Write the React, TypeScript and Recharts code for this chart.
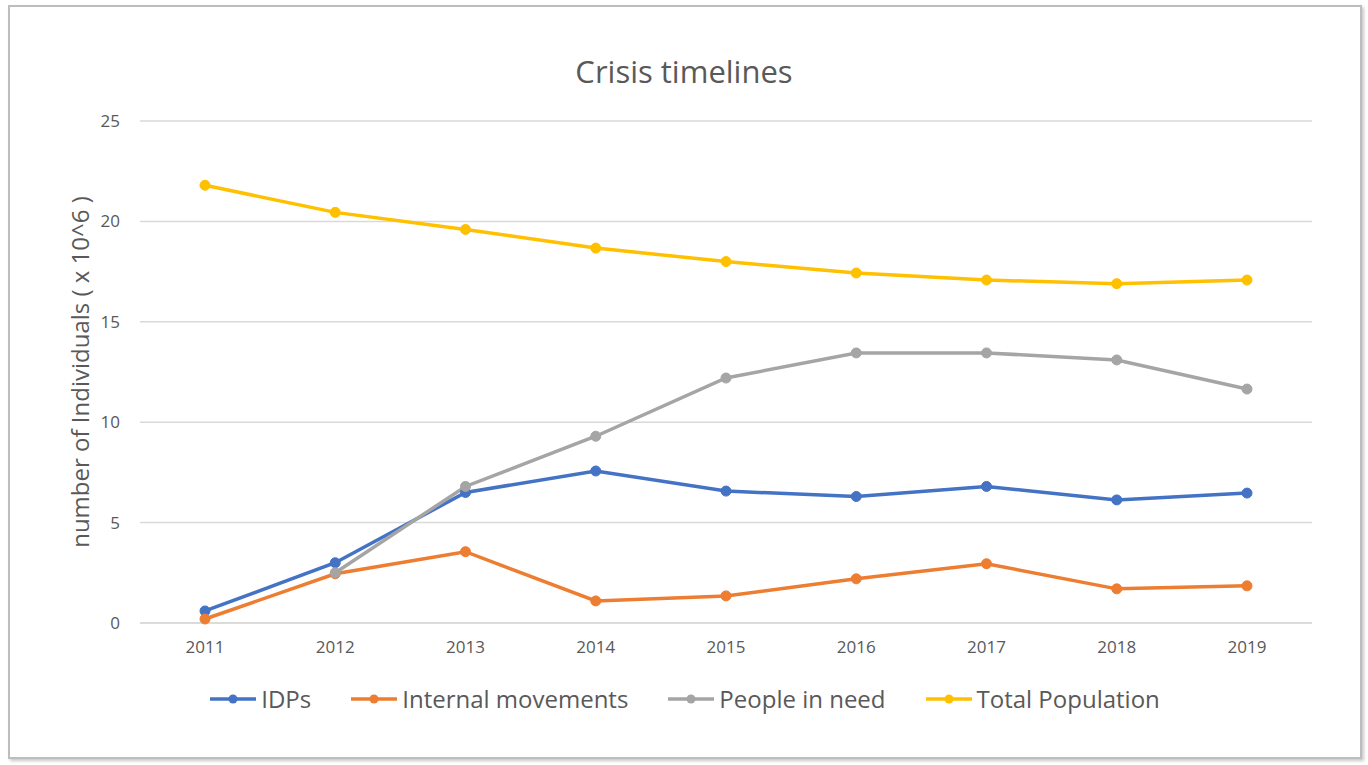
import React from 'react';
import { LineChart, Line, XAxis, YAxis, CartesianGrid } from 'recharts';

const years = ['2011', '2012', '2013', '2014', '2015', '2016', '2017', '2018', '2019'];
const idps = [0.6, 3.0, 6.5, 7.57, 6.57, 6.3, 6.8, 6.13, 6.47];
const internalMovements = [0.2, 2.45, 3.55, 1.1, 1.35, 2.2, 2.95, 1.7, 1.85];
const peopleInNeed = [null, 2.5, 6.8, 9.3, 12.2, 13.45, 13.45, 13.1, 11.65];
const totalPopulation = [21.8, 20.45, 19.6, 18.67, 18.0, 17.43, 17.08, 16.9, 17.08];
const yTicks = [0, 5, 10, 15, 20, 25];

const SERIES = [
  { key: 'idps', name: 'IDPs', color: '#4472C4' },
  { key: 'internal', name: 'Internal movements', color: '#ED7D31' },
  { key: 'need', name: 'People in need', color: '#A5A5A5' },
  { key: 'total', name: 'Total Population', color: '#FFC000' },
];

const data = years.map((year, i) => ({
  year,
  idps: idps[i],
  internal: internalMovements[i],
  need: peopleInNeed[i],
  total: totalPopulation[i],
}));

const FONT = '"Open Sans", "Noto Sans", sans-serif';
const TEXT = '#595959';

const App: React.FC = () => {
  return (
    <div style={{ position: 'absolute', left: 0, top: 0, width: 1368, height: 765, background: '#fff', fontFamily: FONT }}>
      <div
        style={{
          position: 'absolute', left: 8, top: 5, width: 1350, height: 750,
          border: '2px solid #bdbdbd', boxShadow: '2px 2px 3px #c8c8c8', background: '#fff',
        }}
      />
      <div style={{ position: 'absolute', left: 0, top: 50, width: 1368, textAlign: 'center', fontSize: 31, color: TEXT }}>
        Crisis timelines
      </div>
      {/* y axis title */}
      <div
        style={{
          position: 'absolute', left: 80, top: 372, width: 500, marginLeft: -250, marginTop: -17,
          textAlign: 'center', fontSize: 24, lineHeight: '34px', color: TEXT,
          transform: 'rotate(-90deg)', whiteSpace: 'nowrap',
        }}
      >
        number of Individuals ( x 10^6 )
      </div>
      <div style={{ position: 'absolute', left: 0, top: 0 }}>
        <LineChart width={1368} height={765} data={data} margin={{ top: 121, right: 56, bottom: 112, left: 80 }}>
          <CartesianGrid vertical={false} stroke="#d9d9d9" strokeWidth={1.5} />
          <XAxis
            dataKey="year"
            height={30}
            padding={{ left: 65, right: 65 }}
            axisLine={{ stroke: '#d9d9d9', strokeWidth: 1.5 }}
            tickLine={false}
            tickSize={0}
            tickMargin={18}
            tick={{ fill: TEXT, fontSize: 17, fontFamily: FONT }}
          />
          <YAxis
            width={60}
            domain={[0, 25]}
            ticks={yTicks}
            axisLine={false}
            tickLine={false}
            tickSize={0}
            tickMargin={20}
            tick={{ fill: TEXT, fontSize: 17, fontFamily: FONT }}
          />
          {SERIES.map(s => (
            <Line
              key={s.key}
              dataKey={s.key}
              name={s.name}
              stroke={s.color}
              strokeWidth={3.5}
              dot={{ r: 5, fill: s.color, stroke: s.color, strokeWidth: 1 }}
              type="linear"
              isAnimationActive={false}
              connectNulls={false}
            />
          ))}
        </LineChart>
      </div>
      <div
        style={{
          position: 'absolute', left: 0, top: 682, width: 1368, display: 'flex',
          justifyContent: 'center', gap: 38, fontSize: 24, color: TEXT,
        }}
      >
        {SERIES.map(s => (
          <div key={s.key} style={{ display: 'flex', alignItems: 'center' }}>
            <svg width={50} height={14} style={{ marginRight: 3 }}>
              <line x1={2} y1={7} x2={48} y2={7} stroke={s.color} strokeWidth={3.5} />
              <circle cx={25} cy={7} r={4.5} fill={s.color} />
            </svg>
            <span>{s.name}</span>
          </div>
        ))}
      </div>
    </div>
  );
};

export default App;
